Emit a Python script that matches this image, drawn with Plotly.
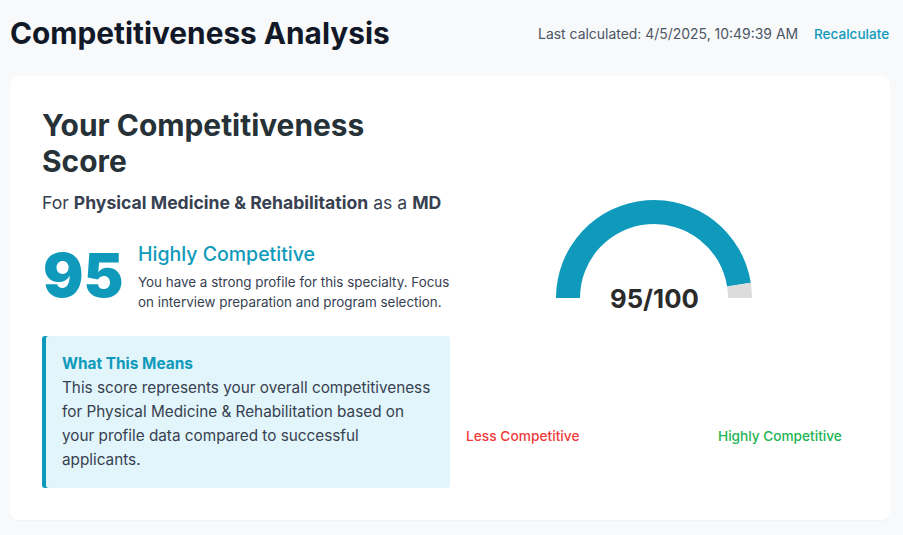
import plotly.graph_objects as go

W, H = 903, 535
FONT = "Inter"
TEAL = "#0f9abc"

score = [95]
remainder = [5]
hidden_half = [100]
gauge_values = score + remainder + hidden_half
gauge_labels = ["Score", "Remaining", "Hidden"]
gauge_colors = [TEAL, "#dcdcdc", "rgba(0,0,0,0)"]

def px(x): return x / W
def py(y): return 1 - y / H

def rrect(x0, y0, x1, y1, r):
    X0, X1 = px(x0), px(x1)
    Y0, Y1 = py(y0), py(y1)
    rx, ry = r / W, r / H
    return (f"M{X0+rx},{Y0} L{X1-rx},{Y0} Q{X1},{Y0} {X1},{Y0-ry} "
            f"L{X1},{Y1+ry} Q{X1},{Y1} {X1-rx},{Y1} L{X0+rx},{Y1} "
            f"Q{X0},{Y1} {X0},{Y1+ry} L{X0},{Y0-ry} Q{X0},{Y0} {X0+rx},{Y0} Z")

fig = go.Figure(go.Pie(
    values=gauge_values, labels=gauge_labels, sort=False, direction="clockwise",
    rotation=270, hole=0.755, textinfo="none", hoverinfo="skip",
    marker=dict(colors=gauge_colors, line=dict(width=0)),
    domain=dict(x=[px(556), px(752)], y=[py(396), py(200)]),
    showlegend=False,
))

shapes = [
    dict(type="path", path=rrect(10, 77, 890, 521, 9), fillcolor="#f1f3f5", line_width=0, layer="below"),
    dict(type="path", path=rrect(10, 76, 890, 520, 9), fillcolor="#ffffff", line_width=0, layer="below"),
    dict(type="path", path=rrect(42, 336, 60, 488, 3), fillcolor=TEAL, line_width=0, layer="below"),
    dict(type="path", path=rrect(46, 336, 450, 488, 3), fillcolor="#e2f5fa", line_width=0, layer="below"),
]
for s in shapes:
    s.update(xref="paper", yref="paper")

texts = [
    ("Competitiveness Analysis", 9, 33, 29.8, "#111827", 700, "left"),
    ("Last calculated: 4/5/2025, 10:49:39 AM", 537, 34, 13.95, "#4b5563", 400, "left"),
    ("Recalculate", 813, 34, 13.55, TEAL, 500, "left"),
    ("Your Competitiveness", 41, 125, 29.9, "#263238", 700, "left"),
    ("Score", 41, 161, 29.9, "#263238", 700, "left"),
    ("For <b>Physical Medicine &amp; Rehabilitation</b> as a <b>MD</b>", 41, 202, 17.6, "#374151", 400, "left"),
    ("95", 42, 275, 60, TEAL, 900, "left"),
    ("Highly Competitive", 137, 254, 19.5, TEAL, 500, "left"),
    ("You have a strong profile for this specialty. Focus", 137, 282, 13.4, "#374151", 400, "left"),
    ("on interview preparation and program selection.", 137, 302, 13.4, "#374151", 400, "left"),
    ("What This Means", 61, 363, 15.4, TEAL, 700, "left"),
    ("This score represents your overall competitiveness", 61, 387, 15.3, "#374151", 400, "left"),
    ("for Physical Medicine &amp; Rehabilitation based on", 61, 411, 15.3, "#374151", 400, "left"),
    ("your profile data compared to successful", 61, 435, 15.3, "#374151", 400, "left"),
    ("applicants.", 61, 459, 15.3, "#374151", 400, "left"),
    ("95/100", 654, 298, 25.7, "#2b2b2b", 700, "center"),
    ("Less Competitive", 465, 436, 13.75, "#ef3b3b", 500, "left"),
    ("Highly Competitive", 717, 436, 13.65, "#22b455", 500, "left"),
]
annotations = [
    dict(text=t, x=px(x), y=py(y), xref="paper", yref="paper", xanchor=a, yanchor="middle",
         showarrow=False, borderpad=0,
         font=dict(family=FONT, size=s, color=c, weight=w))
    for t, x, y, s, c, w, a in texts
]

fig.update_layout(
    width=W, height=H, margin=dict(l=0, r=0, t=0, b=0),
    paper_bgcolor="#f8f9fb", plot_bgcolor="#f8f9fb",
    shapes=shapes, annotations=annotations,
)
fig.write_html("out.html", config=dict(displayModeBar=False),
               post_script="document.body.style.margin='0';document.body.style.background='#f8f9fb';")
